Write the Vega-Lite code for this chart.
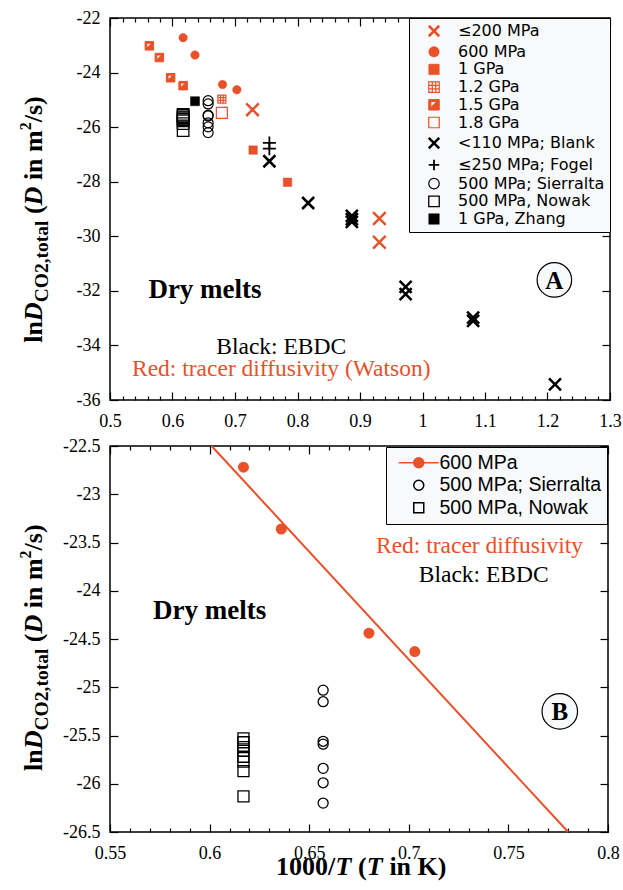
{
  "$schema": "https://vega.github.io/schema/vega-lite/v6.json",
  "padding": {"left": 16, "top": 8, "right": 5, "bottom": 5},
  "spacing": 5,
  "background": "white",
  "config": {
    "view": {"stroke": "black", "strokeWidth": 1.5},
    "axis": {"domain": false, "grid": false, "ticks": true, "tickColor": "black", "tickWidth": 1.2, "labelFont": "Liberation Serif", "labelFontSize": 18, "labelColor": "black", "labelFlush": false, "labelOverlap": false, "title": null}
  },
  "datasets": {
    "pts": [
      {"x": 0.728, "y": -25.36, "s": "≤200 MPa"}, {"x": 0.931, "y": -29.35, "s": "≤200 MPa"}, {"x": 0.931, "y": -30.22, "s": "≤200 MPa"},
      {"x": 0.617, "y": -22.72, "s": "600 MPa"}, {"x": 0.636, "y": -23.36, "s": "600 MPa"}, {"x": 0.68, "y": -24.44, "s": "600 MPa"}, {"x": 0.703, "y": -24.63, "s": "600 MPa"},
      {"x": 0.729, "y": -26.84, "s": "1 GPa"}, {"x": 0.784, "y": -28.02, "s": "1 GPa"},
      {"x": 0.679, "y": -24.97, "s": "1.2 GPa"},
      {"x": 0.563, "y": -23.02, "s": "1.5 GPa"}, {"x": 0.579, "y": -23.45, "s": "1.5 GPa"}, {"x": 0.597, "y": -24.19, "s": "1.5 GPa"}, {"x": 0.617, "y": -24.48, "s": "1.5 GPa"},
      {"x": 0.679, "y": -25.48, "s": "1.8 GPa"},
      {"x": 0.755, "y": -27.25, "s": "<110 MPa; Blank"}, {"x": 0.817, "y": -28.78, "s": "<110 MPa; Blank"}, {"x": 0.887, "y": -29.25, "s": "<110 MPa; Blank"}, {"x": 0.887, "y": -29.37, "s": "<110 MPa; Blank"}, {"x": 0.887, "y": -29.47, "s": "<110 MPa; Blank"}, {"x": 0.973, "y": -31.85, "s": "<110 MPa; Blank"}, {"x": 0.973, "y": -32.12, "s": "<110 MPa; Blank"}, {"x": 1.081, "y": -32.98, "s": "<110 MPa; Blank"}, {"x": 1.081, "y": -33.1, "s": "<110 MPa; Blank"}, {"x": 1.212, "y": -35.43, "s": "<110 MPa; Blank"},
      {"x": 0.755, "y": -26.58, "s": "≤250 MPa; Fogel"}, {"x": 0.755, "y": -26.79, "s": "≤250 MPa; Fogel"},
      {"x": 0.657, "y": -25.03, "s": "500 MPa; Sierralta"}, {"x": 0.657, "y": -25.15, "s": "500 MPa; Sierralta"}, {"x": 0.657, "y": -25.56, "s": "500 MPa; Sierralta"}, {"x": 0.657, "y": -25.59, "s": "500 MPa; Sierralta"}, {"x": 0.657, "y": -25.84, "s": "500 MPa; Sierralta"}, {"x": 0.657, "y": -25.99, "s": "500 MPa; Sierralta"}, {"x": 0.657, "y": -26.2, "s": "500 MPa; Sierralta"},
      {"x": 0.617, "y": -25.53, "s": "500 MPa, Nowak"}, {"x": 0.617, "y": -25.57, "s": "500 MPa, Nowak"}, {"x": 0.617, "y": -25.62, "s": "500 MPa, Nowak"}, {"x": 0.617, "y": -25.66, "s": "500 MPa, Nowak"}, {"x": 0.617, "y": -25.72, "s": "500 MPa, Nowak"}, {"x": 0.617, "y": -25.77, "s": "500 MPa, Nowak"}, {"x": 0.617, "y": -25.87, "s": "500 MPa, Nowak"}, {"x": 0.617, "y": -26.13, "s": "500 MPa, Nowak"},
      {"x": 0.636, "y": -25.05, "s": "1 GPa, Zhang"}
    ],
    "red600": [
      {"x": 0.617, "y": -22.72}, {"x": 0.636, "y": -23.36}, {"x": 0.68, "y": -24.44}, {"x": 0.703, "y": -24.63}
    ],
    "bot": [
      {"x": 0.657, "y": -25.03, "s": "500 MPa; Sierralta"}, {"x": 0.657, "y": -25.15, "s": "500 MPa; Sierralta"}, {"x": 0.657, "y": -25.56, "s": "500 MPa; Sierralta"}, {"x": 0.657, "y": -25.59, "s": "500 MPa; Sierralta"}, {"x": 0.657, "y": -25.84, "s": "500 MPa; Sierralta"}, {"x": 0.657, "y": -25.99, "s": "500 MPa; Sierralta"}, {"x": 0.657, "y": -26.2, "s": "500 MPa; Sierralta"},
      {"x": 0.617, "y": -25.53, "s": "500 MPa, Nowak"}, {"x": 0.617, "y": -25.57, "s": "500 MPa, Nowak"}, {"x": 0.617, "y": -25.62, "s": "500 MPa, Nowak"}, {"x": 0.617, "y": -25.66, "s": "500 MPa, Nowak"}, {"x": 0.617, "y": -25.72, "s": "500 MPa, Nowak"}, {"x": 0.617, "y": -25.77, "s": "500 MPa, Nowak"}, {"x": 0.617, "y": -25.87, "s": "500 MPa, Nowak"}, {"x": 0.617, "y": -26.13, "s": "500 MPa, Nowak"}
    ],
    "fit": [{"x": 0.601, "y": -22.5}, {"x": 0.78, "y": -26.5}]
  },
  "vconcat": [
    {
      "width": 500,
      "height": 382,
      "resolve": {"axis": {"x": "independent", "y": "independent"}},
      "layer": [
        {
          "data": {"name": "pts"},
          "mark": {"type": "point", "opacity": 1},
          "encoding": {
            "x": {"field": "x", "type": "quantitative", "scale": {"domain": [0.5, 1.3], "nice": false, "zero": false}, "axis": {"orient": "bottom", "values": [0.5, 0.6, 0.7, 0.8, 0.9, 1, 1.1, 1.2, 1.3], "offset": -8, "tickSize": 8, "labelPadding": 12, "labelExpr": "'' + datum.value"}},
            "y": {"field": "y", "type": "quantitative", "scale": {"domain": [-36, -22], "nice": false, "zero": false}, "axis": {"orient": "left", "values": [-36, -34, -32, -30, -28, -26, -24, -22], "offset": -8, "tickSize": 8, "labelPadding": 10, "labelExpr": "'' + datum.value"}},
            "shape": {"field": "s", "type": "nominal",
              "scale": {"domain": ["≤200 MPa", "600 MPa", "1 GPa", "1.2 GPa", "1.5 GPa", "1.8 GPa", "<110 MPa; Blank", "≤250 MPa; Fogel", "500 MPa; Sierralta", "500 MPa, Nowak", "1 GPa, Zhang"],
                "range": ["M-1,-1L1,1M1,-1L-1,1", "circle", "square", "M-1,-1H1V1H-1ZM-0.33,-1V1M0.33,-1V1M-1,-0.33H1M-1,0.33H1", "M-1,-1H1V1H-1ZM-0.6,-0.6L-0.6,0.5L0.5,-0.6Z", "square", "M-1,-1L1,1M1,-1L-1,1", "M0,-1V1M-1,0H1", "circle", "square", "square"]},
              "legend": {"title": "\u00a0", "titleOrient": "left", "titleFont": "DejaVu Sans", "titleFontSize": 16, "titlePadding": 12, "orient": "top-right", "offset": 0, "padding": 5, "fillColor": "#f8f9fb", "strokeColor": "black", "labelFont": "DejaVu Sans", "labelFontSize": 16, "labelLimit": 300, "labelColor": "black", "rowPadding": 1.7, "symbolSize": 110, "symbolOffset": 0, "labelOffset": 16,
                "encode": {"labels": {"update": {"fill": {"signal": "indexof(['≤200 MPa','600 MPa','1 GPa','1.2 GPa','1.5 GPa','1.8 GPa'], datum.label) >= 0 ? '#e8512a' : 'black'"}}}}}},
            "fill": {"field": "s", "type": "nominal",
              "scale": {"domain": ["≤200 MPa", "600 MPa", "1 GPa", "1.2 GPa", "1.5 GPa", "1.8 GPa", "<110 MPa; Blank", "≤250 MPa; Fogel", "500 MPa; Sierralta", "500 MPa, Nowak", "1 GPa, Zhang"],
                "range": ["transparent", "#e8512a", "#e8512a", "transparent", "#e8512a", "transparent", "transparent", "transparent", "transparent", "transparent", "black"]},
              "legend": {"title": "\u00a0"}},
            "stroke": {"field": "s", "type": "nominal",
              "scale": {"domain": ["≤200 MPa", "600 MPa", "1 GPa", "1.2 GPa", "1.5 GPa", "1.8 GPa", "<110 MPa; Blank", "≤250 MPa; Fogel", "500 MPa; Sierralta", "500 MPa, Nowak", "1 GPa, Zhang"],
                "range": ["#e8512a", "#e8512a", "#e8512a", "#e8512a", "#e8512a", "#e8512a", "black", "black", "black", "black", "black"]},
              "legend": {"title": "\u00a0"}},
            "size": {"field": "s", "type": "nominal",
              "scale": {"type": "ordinal", "domain": ["1 GPa, Zhang", "500 MPa, Nowak", "500 MPa; Sierralta", "≤250 MPa; Fogel", "<110 MPa; Blank", "1.8 GPa", "1.5 GPa", "1.2 GPa", "1 GPa", "600 MPa", "≤200 MPa"],
                "range": [81, 132, 100, 169, 144, 121, 72, 64, 72, 72, 160]},
              "legend": null},
            "strokeWidth": {"field": "s", "type": "nominal",
              "scale": {"type": "ordinal", "domain": ["≤200 MPa", "600 MPa", "1 GPa", "1.2 GPa", "1.5 GPa", "1.8 GPa", "<110 MPa; Blank", "≤250 MPa; Fogel", "500 MPa; Sierralta", "500 MPa, Nowak", "1 GPa, Zhang"],
                "range": [2.5, 0.5, 0.5, 1.2, 1, 1.2, 2.5, 1.8, 1.2, 1.3, 0.5]},
              "legend": {"title": "\u00a0"}}
          }
        },
        {
          "data": {"name": "fit"},
          "mark": {"type": "point", "opacity": 0},
          "encoding": {
            "x": {"field": "x", "type": "quantitative", "scale": {"domain": [0.5, 1.3], "nice": false, "zero": false}, "axis": {"orient": "top", "values": [0.5, 0.6, 0.7, 0.8, 0.9, 1, 1.1, 1.2, 1.3], "offset": -8, "tickSize": 8, "labels": false}},
            "y": {"field": "y", "type": "quantitative", "scale": {"domain": [-36, -22], "nice": false, "zero": false}, "axis": {"orient": "right", "values": [-36, -34, -32, -30, -28, -26, -24, -22], "offset": -8, "tickSize": 8, "labels": false}}
          }
        },
        {
          "data": {"name": "fit"},
          "mark": {"type": "point", "opacity": 0},
          "encoding": {
            "x": {"field": "x", "type": "quantitative", "scale": {"domain": [0.5, 1.3], "nice": false, "zero": false}, "axis": {"orient": "bottom", "values": [0.52, 0.54, 0.56, 0.58, 0.62, 0.64, 0.66, 0.68, 0.72, 0.74, 0.76, 0.78, 0.82, 0.84, 0.86, 0.88, 0.92, 0.94, 0.96, 0.98, 1.02, 1.04, 1.06, 1.08, 1.12, 1.14, 1.16, 1.18, 1.22, 1.24, 1.26, 1.28], "offset": -4, "tickSize": 4, "labels": false}},
            "y": {"field": "y", "type": "quantitative", "scale": {"domain": [-36, -22], "nice": false, "zero": false}, "axis": null}
          }
        },
        {
          "data": {"name": "fit"},
          "mark": {"type": "point", "opacity": 0},
          "encoding": {
            "x": {"field": "x", "type": "quantitative", "scale": {"domain": [0.5, 1.3], "nice": false, "zero": false}, "axis": {"orient": "top", "values": [0.52, 0.54, 0.56, 0.58, 0.62, 0.64, 0.66, 0.68, 0.72, 0.74, 0.76, 0.78, 0.82, 0.84, 0.86, 0.88, 0.92, 0.94, 0.96, 0.98, 1.02, 1.04, 1.06, 1.08, 1.12, 1.14, 1.16, 1.18, 1.22, 1.24, 1.26, 1.28], "offset": -4, "tickSize": 4, "labels": false}},
            "y": {"field": "y", "type": "quantitative", "scale": {"domain": [-36, -22], "nice": false, "zero": false}, "axis": null}
          }
        },
        {
          "data": {"values": [{"x": 0.652, "y": -32.26, "t": "Dry melts"}]},
          "mark": {"type": "text", "font": "Liberation Serif", "fontWeight": "bold", "fontSize": 27, "align": "center", "baseline": "alphabetic", "color": "black"},
          "encoding": {
            "x": {"field": "x", "type": "quantitative", "scale": {"domain": [0.5, 1.3], "nice": false, "zero": false}, "axis": null},
            "y": {"field": "y", "type": "quantitative", "scale": {"domain": [-36, -22], "nice": false, "zero": false}, "axis": null},
            "text": {"field": "t"}
          }
        },
        {
          "data": {"values": [{"x": 0.774, "y": -34.31, "t": "Black: EBDC"}]},
          "mark": {"type": "text", "font": "Liberation Serif", "fontSize": 23.5, "align": "center", "baseline": "alphabetic", "color": "black"},
          "encoding": {
            "x": {"field": "x", "type": "quantitative", "scale": {"domain": [0.5, 1.3], "nice": false, "zero": false}, "axis": null},
            "y": {"field": "y", "type": "quantitative", "scale": {"domain": [-36, -22], "nice": false, "zero": false}, "axis": null},
            "text": {"field": "t"}
          }
        },
        {
          "data": {"values": [{"x": 0.774, "y": -35.11, "t": "Red: tracer diffusivity (Watson)"}]},
          "mark": {"type": "text", "font": "Liberation Serif", "fontSize": 23.5, "align": "center", "baseline": "alphabetic", "color": "#e8512a"},
          "encoding": {
            "x": {"field": "x", "type": "quantitative", "scale": {"domain": [0.5, 1.3], "nice": false, "zero": false}, "axis": null},
            "y": {"field": "y", "type": "quantitative", "scale": {"domain": [-36, -22], "nice": false, "zero": false}, "axis": null},
            "text": {"field": "t"}
          }
        },
        {
          "data": {"values": [{"x": 1.211, "y": -31.6, "t": "A"}]},
          "layer": [
            {"mark": {"type": "point", "shape": "circle", "size": 1190, "filled": true, "fill": "#f8f9fb", "stroke": "black", "strokeWidth": 1.2, "opacity": 1}},
            {"mark": {"type": "text", "font": "Liberation Serif", "fontWeight": "bold", "fontSize": 25, "align": "center", "baseline": "middle", "dy": 1, "color": "black"}, "encoding": {"text": {"field": "t"}}}
          ],
          "encoding": {
            "x": {"field": "x", "type": "quantitative", "scale": {"domain": [0.5, 1.3], "nice": false, "zero": false}, "axis": null},
            "y": {"field": "y", "type": "quantitative", "scale": {"domain": [-36, -22], "nice": false, "zero": false}, "axis": null}
          }
        },
        {
          "data": {"values": [{"x": 0.3915, "y": -33.905, "t": "ln"}, {"x": 0.3915, "y": -29.187, "t": "("}, {"x": 0.3915, "y": -27.941, "t": "in m"}, {"x": 0.3915, "y": -25.824, "t": "/s)"}]},
          "mark": {"type": "text", "font": "Liberation Serif", "fontWeight": "bold", "fontSize": 26, "angle": 270, "align": "left", "baseline": "alphabetic", "color": "black"},
          "encoding": {
            "x": {"field": "x", "type": "quantitative", "scale": {"domain": [0.5, 1.3], "nice": false, "zero": false}, "axis": null},
            "y": {"field": "y", "type": "quantitative", "scale": {"domain": [-36, -22], "nice": false, "zero": false}, "axis": null},
            "text": {"field": "t"}
          }
        },
        {
          "data": {"values": [{"x": 0.3915, "y": -33.11, "t": "D"}, {"x": 0.3915, "y": -28.868, "t": "D"}]},
          "mark": {"type": "text", "font": "Liberation Serif", "fontWeight": "bold", "fontStyle": "italic", "fontSize": 26, "angle": 270, "align": "left", "baseline": "alphabetic", "color": "black"},
          "encoding": {
            "x": {"field": "x", "type": "quantitative", "scale": {"domain": [0.5, 1.3], "nice": false, "zero": false}, "axis": null},
            "y": {"field": "y", "type": "quantitative", "scale": {"domain": [-36, -22], "nice": false, "zero": false}, "axis": null},
            "text": {"field": "t"}
          }
        },
        {
          "data": {"values": [{"x": 0.3915, "y": -32.421, "t": "CO2,total"}]},
          "mark": {"type": "text", "font": "Liberation Serif", "fontWeight": "bold", "fontSize": 19.5, "angle": 270, "align": "left", "baseline": "alphabetic", "dy": 6, "color": "black"},
          "encoding": {
            "x": {"field": "x", "type": "quantitative", "scale": {"domain": [0.5, 1.3], "nice": false, "zero": false}, "axis": null},
            "y": {"field": "y", "type": "quantitative", "scale": {"domain": [-36, -22], "nice": false, "zero": false}, "axis": null},
            "text": {"field": "t"}
          }
        },
        {
          "data": {"values": [{"x": 0.3915, "y": -26.117, "t": "2"}]},
          "mark": {"type": "text", "font": "Liberation Serif", "fontWeight": "bold", "fontSize": 16, "angle": 270, "align": "left", "baseline": "alphabetic", "dy": -11, "color": "black"},
          "encoding": {
            "x": {"field": "x", "type": "quantitative", "scale": {"domain": [0.5, 1.3], "nice": false, "zero": false}, "axis": null},
            "y": {"field": "y", "type": "quantitative", "scale": {"domain": [-36, -22], "nice": false, "zero": false}, "axis": null},
            "text": {"field": "t"}
          }
        }
      ]
    },
    {
      "width": 498,
      "height": 386,
      "resolve": {"axis": {"x": "independent", "y": "independent"}},
      "layer": [
        {
          "data": {"name": "fit"},
          "mark": {"type": "line", "color": "#e8512a", "strokeWidth": 2},
          "encoding": {
            "x": {"field": "x", "type": "quantitative", "scale": {"domain": [0.55, 0.8], "nice": false, "zero": false}, "axis": {"orient": "bottom", "values": [0.55, 0.6, 0.65, 0.7, 0.75, 0.8], "offset": -8, "tickSize": 8, "labelPadding": 12, "labelExpr": "'' + datum.value"}},
            "y": {"field": "y", "type": "quantitative", "scale": {"domain": [-26.5, -22.5], "nice": false, "zero": false}, "axis": {"orient": "left", "values": [-26.5, -26, -25.5, -25, -24.5, -24, -23.5, -23, -22.5], "offset": -8, "tickSize": 8, "labelPadding": 10, "labelExpr": "'' + datum.value"}}
          }
        },
        {
          "data": {"name": "red600"},
          "mark": {"type": "point", "shape": "circle", "filled": true, "color": "#e8512a", "size": 121, "opacity": 1},
          "encoding": {
            "x": {"field": "x", "type": "quantitative", "scale": {"domain": [0.55, 0.8], "nice": false, "zero": false}, "axis": {"orient": "top", "values": [0.55, 0.6, 0.65, 0.7, 0.75, 0.8], "offset": -8, "tickSize": 8, "labels": false}},
            "y": {"field": "y", "type": "quantitative", "scale": {"domain": [-26.5, -22.5], "nice": false, "zero": false}, "axis": {"orient": "right", "values": [-26.5, -26, -25.5, -25, -24.5, -24, -23.5, -23, -22.5], "offset": -8, "tickSize": 8, "labels": false}}
          }
        },
        {
          "data": {"name": "bot"},
          "mark": {"type": "point", "opacity": 1, "strokeWidth": 1.3},
          "encoding": {
            "x": {"field": "x", "type": "quantitative", "scale": {"domain": [0.55, 0.8], "nice": false, "zero": false}, "axis": {"orient": "bottom", "values": [0.56, 0.57, 0.58, 0.59, 0.61, 0.62, 0.63, 0.64, 0.66, 0.67, 0.68, 0.69, 0.71, 0.72, 0.73, 0.74, 0.76, 0.77, 0.78, 0.79], "offset": -4, "tickSize": 4, "labels": false}},
            "y": {"field": "y", "type": "quantitative", "scale": {"domain": [-26.5, -22.5], "nice": false, "zero": false}, "axis": null},
            "shape": {"field": "s", "type": "nominal",
              "scale": {"domain": ["600 MPa", "500 MPa; Sierralta", "500 MPa, Nowak"], "range": ["M-4,0H4M1,0A1,1,0,1,1,-1,0A1,1,0,1,1,1,0", "circle", "square"]},
              "legend": {"title": null, "orient": "top-right", "offset": 1, "padding": 6, "fillColor": "#f8f9fb", "strokeColor": "black", "labelFont": "Liberation Sans", "labelFontSize": 19.5, "labelLimit": 300, "labelColor": "black", "rowPadding": 1.5, "symbolOffset": 17, "labelOffset": 11, "symbolSize": 100,
                "encode": {"labels": {"update": {"fill": {"signal": "datum.label === '600 MPa' ? '#e8512a' : 'black'"}}}}}},
            "fill": {"field": "s", "type": "nominal", "scale": {"domain": ["600 MPa", "500 MPa; Sierralta", "500 MPa, Nowak"], "range": ["#e8512a", "transparent", "transparent"]}, "legend": {"title": null}},
            "stroke": {"field": "s", "type": "nominal", "scale": {"domain": ["600 MPa", "500 MPa; Sierralta", "500 MPa, Nowak"], "range": ["#e8512a", "black", "black"]}, "legend": {"title": null}},
            "size": {"field": "s", "type": "nominal", "scale": {"type": "ordinal", "domain": ["500 MPa, Nowak", "500 MPa; Sierralta", "600 MPa"], "range": [121, 100, 100]}, "legend": null}
          }
        },
        {
          "data": {"name": "fit"},
          "mark": {"type": "point", "opacity": 0},
          "encoding": {
            "x": {"field": "x", "type": "quantitative", "scale": {"domain": [0.55, 0.8], "nice": false, "zero": false}, "axis": {"orient": "top", "values": [0.56, 0.57, 0.58, 0.59, 0.61, 0.62, 0.63, 0.64, 0.66, 0.67, 0.68, 0.69, 0.71, 0.72, 0.73, 0.74, 0.76, 0.77, 0.78, 0.79], "offset": -4, "tickSize": 4, "labels": false}},
            "y": {"field": "y", "type": "quantitative", "scale": {"domain": [-26.5, -22.5], "nice": false, "zero": false}, "axis": null}
          }
        },
        {
          "data": {"values": [{"x": 0.6, "y": -24.29, "t": "Dry melts"}]},
          "mark": {"type": "text", "font": "Liberation Serif", "fontWeight": "bold", "fontSize": 27, "align": "center", "baseline": "alphabetic", "color": "black"},
          "encoding": {
            "x": {"field": "x", "type": "quantitative", "scale": {"domain": [0.55, 0.8], "nice": false, "zero": false}, "axis": null},
            "y": {"field": "y", "type": "quantitative", "scale": {"domain": [-26.5, -22.5], "nice": false, "zero": false}, "axis": null},
            "text": {"field": "t"}
          }
        },
        {
          "data": {"values": [{"x": 0.7376, "y": -23.91, "t": "Black: EBDC"}]},
          "mark": {"type": "text", "font": "Liberation Serif", "fontSize": 23.5, "align": "center", "baseline": "alphabetic", "color": "black"},
          "encoding": {
            "x": {"field": "x", "type": "quantitative", "scale": {"domain": [0.55, 0.8], "nice": false, "zero": false}, "axis": null},
            "y": {"field": "y", "type": "quantitative", "scale": {"domain": [-26.5, -22.5], "nice": false, "zero": false}, "axis": null},
            "text": {"field": "t"}
          }
        },
        {
          "data": {"values": [{"x": 0.7355, "y": -23.61, "t": "Red: tracer diffusivity"}]},
          "mark": {"type": "text", "font": "Liberation Serif", "fontSize": 23.5, "align": "center", "baseline": "alphabetic", "color": "#e8512a"},
          "encoding": {
            "x": {"field": "x", "type": "quantitative", "scale": {"domain": [0.55, 0.8], "nice": false, "zero": false}, "axis": null},
            "y": {"field": "y", "type": "quantitative", "scale": {"domain": [-26.5, -22.5], "nice": false, "zero": false}, "axis": null},
            "text": {"field": "t"}
          }
        },
        {
          "data": {"values": [{"x": 0.7758, "y": -25.25, "t": "B"}]},
          "layer": [
            {"mark": {"type": "point", "shape": "circle", "size": 1260, "filled": true, "fill": "#f8f9fb", "stroke": "black", "strokeWidth": 1.2, "opacity": 1}},
            {"mark": {"type": "text", "font": "Liberation Serif", "fontWeight": "bold", "fontSize": 25, "align": "center", "baseline": "middle", "dy": 1, "color": "black"}, "encoding": {"text": {"field": "t"}}}
          ],
          "encoding": {
            "x": {"field": "x", "type": "quantitative", "scale": {"domain": [0.55, 0.8], "nice": false, "zero": false}, "axis": null},
            "y": {"field": "y", "type": "quantitative", "scale": {"domain": [-26.5, -22.5], "nice": false, "zero": false}, "axis": null}
          }
        },
        {
          "data": {"values": [{"x": 0.5157, "y": -25.868, "t": "ln"}, {"x": 0.5157, "y": -24.533, "t": "("}, {"x": 0.5157, "y": -24.181, "t": "in m"}, {"x": 0.5157, "y": -23.582, "t": "/s)"}]},
          "mark": {"type": "text", "font": "Liberation Serif", "fontWeight": "bold", "fontSize": 26, "angle": 270, "align": "left", "baseline": "alphabetic", "color": "black"},
          "encoding": {
            "x": {"field": "x", "type": "quantitative", "scale": {"domain": [0.55, 0.8], "nice": false, "zero": false}, "axis": null},
            "y": {"field": "y", "type": "quantitative", "scale": {"domain": [-26.5, -22.5], "nice": false, "zero": false}, "axis": null},
            "text": {"field": "t"}
          }
        },
        {
          "data": {"values": [{"x": 0.5157, "y": -25.643, "t": "D"}, {"x": 0.5157, "y": -24.443, "t": "D"}]},
          "mark": {"type": "text", "font": "Liberation Serif", "fontWeight": "bold", "fontStyle": "italic", "fontSize": 26, "angle": 270, "align": "left", "baseline": "alphabetic", "color": "black"},
          "encoding": {
            "x": {"field": "x", "type": "quantitative", "scale": {"domain": [0.55, 0.8], "nice": false, "zero": false}, "axis": null},
            "y": {"field": "y", "type": "quantitative", "scale": {"domain": [-26.5, -22.5], "nice": false, "zero": false}, "axis": null},
            "text": {"field": "t"}
          }
        },
        {
          "data": {"values": [{"x": 0.5157, "y": -25.448, "t": "CO2,total"}]},
          "mark": {"type": "text", "font": "Liberation Serif", "fontWeight": "bold", "fontSize": 19.5, "angle": 270, "align": "left", "baseline": "alphabetic", "dy": 6, "color": "black"},
          "encoding": {
            "x": {"field": "x", "type": "quantitative", "scale": {"domain": [0.55, 0.8], "nice": false, "zero": false}, "axis": null},
            "y": {"field": "y", "type": "quantitative", "scale": {"domain": [-26.5, -22.5], "nice": false, "zero": false}, "axis": null},
            "text": {"field": "t"}
          }
        },
        {
          "data": {"values": [{"x": 0.5157, "y": -23.665, "t": "2"}]},
          "mark": {"type": "text", "font": "Liberation Serif", "fontWeight": "bold", "fontSize": 16, "angle": 270, "align": "left", "baseline": "alphabetic", "dy": -11, "color": "black"},
          "encoding": {
            "x": {"field": "x", "type": "quantitative", "scale": {"domain": [0.55, 0.8], "nice": false, "zero": false}, "axis": null},
            "y": {"field": "y", "type": "quantitative", "scale": {"domain": [-26.5, -22.5], "nice": false, "zero": false}, "axis": null},
            "text": {"field": "t"}
          }
        },
        {
          "data": {"values": [{"x": 0.63333, "y": -26.945, "t": "1000/"}, {"x": 0.67455, "y": -26.945, "t": "("}, {"x": 0.69025, "y": -26.945, "t": "in K)"}]},
          "mark": {"type": "text", "font": "Liberation Serif", "fontWeight": "bold", "fontSize": 26, "align": "left", "baseline": "alphabetic", "color": "black"},
          "encoding": {
            "x": {"field": "x", "type": "quantitative", "scale": {"domain": [0.55, 0.8], "nice": false, "zero": false}, "axis": null},
            "y": {"field": "y", "type": "quantitative", "scale": {"domain": [-26.5, -22.5], "nice": false, "zero": false}, "axis": null},
            "text": {"field": "t"}
          }
        },
        {
          "data": {"values": [{"x": 0.66323, "y": -26.945, "t": "T"}, {"x": 0.67894, "y": -26.945, "t": "T"}]},
          "mark": {"type": "text", "font": "Liberation Serif", "fontWeight": "bold", "fontStyle": "italic", "fontSize": 26, "align": "left", "baseline": "alphabetic", "color": "black"},
          "encoding": {
            "x": {"field": "x", "type": "quantitative", "scale": {"domain": [0.55, 0.8], "nice": false, "zero": false}, "axis": null},
            "y": {"field": "y", "type": "quantitative", "scale": {"domain": [-26.5, -22.5], "nice": false, "zero": false}, "axis": null},
            "text": {"field": "t"}
          }
        }
      ]
    }
  ],
  "resolve": {
    "scale": {"x": "independent", "y": "independent", "shape": "independent", "fill": "independent", "stroke": "independent", "size": "independent", "strokeWidth": "independent"},
    "legend": {"shape": "independent", "fill": "independent", "stroke": "independent", "size": "independent", "strokeWidth": "independent"}
  }
}
